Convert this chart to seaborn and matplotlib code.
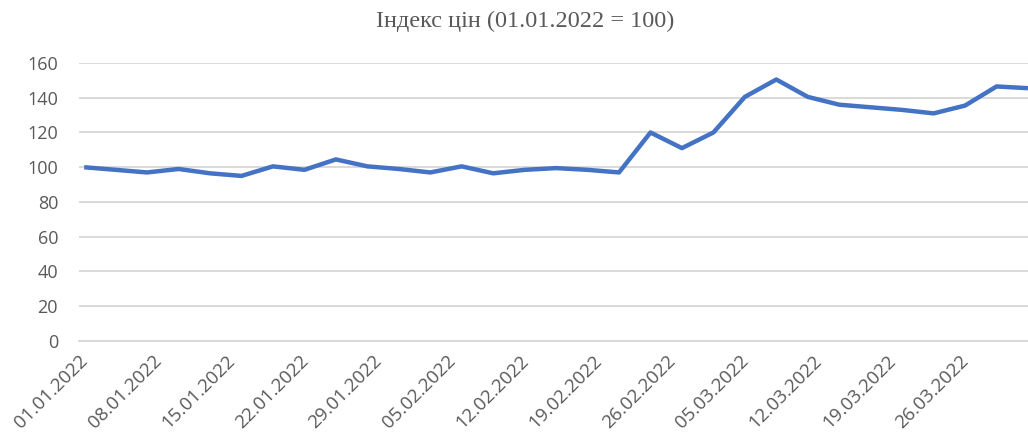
import pandas as pd
import matplotlib
matplotlib.use("Agg")
import matplotlib.pyplot as plt
import matplotlib.dates as mdates
import seaborn as sns

# price index, one observation every 3 days starting 01.01.2022
start_date = "2022-01-01"
step_days = 3
index_values = [100, 98.5, 97, 99, 96.5, 95, 100.5, 98.5, 104.5, 100.5,
                99, 97, 100.5, 96.5, 98.5, 99.5, 98.5, 97, 120, 111,
                120, 140.5, 150.5, 140.5, 136, 134.5, 133, 131, 135.5, 146.5,
                145.5]
tick_dates = pd.date_range("2022-01-01", "2022-03-26", freq="7D")
y_ticks = [0, 20, 40, 60, 80, 100, 120, 140, 160]
title = "Індекс цін (01.01.2022 = 100)"

dates = pd.date_range(start_date, periods=len(index_values), freq=f"{step_days}D")
df = pd.DataFrame({"date": dates, "value": index_values})
# Excel date axis puts each point in the middle of its day
df["xpos"] = df["date"] + pd.Timedelta(hours=12)

sns.set_theme(style="white")
plt.rcParams["font.family"] = ["Open Sans", "DejaVu Sans"]

fig = plt.figure(figsize=(10.28, 4.36), dpi=100)
ax = fig.add_axes([0.0768, 0.218, 0.9232, 0.6375])

sns.lineplot(data=df, x="xpos", y="value", ax=ax, color="#4472C4",
             linewidth=3.2, solid_joinstyle="round", solid_capstyle="butt")

ax.set_ylim(0, 160)
ax.set_yticks(y_ticks)
ax.set_xlim(pd.Timestamp("2022-01-01"), pd.Timestamp("2022-04-01 12:00"))
ax.set_xticks(tick_dates)
ax.xaxis.set_major_formatter(mdates.DateFormatter("%d.%m.%Y"))

ax.yaxis.grid(True, color="#d9d9d9", linewidth=1.4)
ax.set_axisbelow(True)
for side in ["top", "right", "left"]:
    ax.spines[side].set_visible(False)
ax.spines["bottom"].set_color("#d9d9d9")
ax.spines["bottom"].set_linewidth(1.4)

ax.tick_params(axis="y", length=0, pad=15, labelsize=13, labelcolor="#595959")
ax.tick_params(axis="x", length=5, width=1.4, color="#d9d9d9", pad=3,
               labelsize=13.5, labelcolor="#595959")
for lbl in ax.get_xticklabels():
    lbl.set_rotation(45)
    lbl.set_ha("right")
    lbl.set_rotation_mode("anchor")

ax.set_xlabel("")
ax.set_ylabel("")
fig.text(0.5107, 0.9388, title, ha="center", va="baseline", fontsize=17.5,
         family="Liberation Serif", color="#595959")

fig.savefig("out.png", dpi=100)
